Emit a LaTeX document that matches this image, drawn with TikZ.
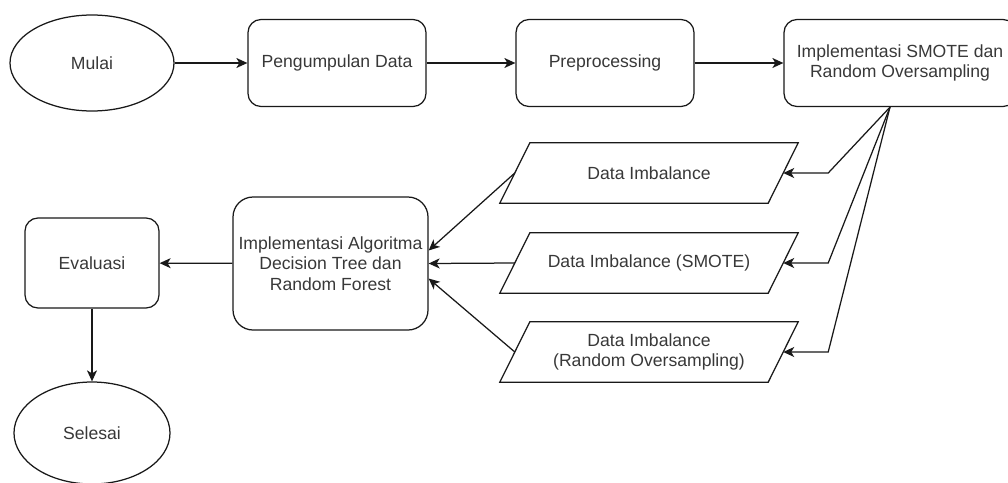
\documentclass[tikz,border=0pt]{standalone}
\usepackage{fontspec}
\setmainfont{Liberation Sans}
\usetikzlibrary{arrows.meta,shapes.geometric}

\begin{document}
\begin{tikzpicture}[x=1pt,y=-1pt,
  line/.style={draw=black!90, line width=1.25pt},
  lbl/.style={text=black!78, font=\fontsize{17.6}{20.5}\selectfont, align=center},
  proc/.style={line, lbl, rounded corners=13pt, minimum width=178pt, minimum height=87pt, inner sep=0pt},
  term/.style={line, lbl, ellipse, inner sep=0pt},
  iobox/.style={lbl, minimum width=268pt, minimum height=60pt, inner sep=0pt},
  flow/.style={line, -{Stealth[length=11pt,width=10pt,inset=3pt]}}
]
\clip (0,0) rectangle (1008,482);

% top row
\node[term, minimum width=164pt, minimum height=96pt] (mulai) at (92,63) {Mulai};
\node[proc] (kumpul) at (337,63) {Pengumpulan Data};
\node[proc] (prep) at (605,63) {Preprocessing};
\node[proc, minimum width=232pt] (smote) at (900,63) {Implementasi SMOTE dan\\Random Oversampling};

% data sets
\node[iobox] (d1) at (649,173) {Data Imbalance};
\node[iobox] (d2) at (649,263) {Data Imbalance (SMOTE)};
\node[iobox] (d3) at (649,352) {Data Imbalance\\(Random Oversampling)};
\foreach \n in {d1,d2,d3}
  \draw[line] ([xshift=15pt]\n.north west) -- ([xshift=15pt]\n.north east)
    -- ([xshift=-15pt]\n.south east) -- ([xshift=-15pt]\n.south west) -- cycle;

% modelling, evaluation, end
\node[proc, minimum width=195pt, minimum height=133pt, rounded corners=20pt] (algo) at (330.5,263.5)
  {Implementasi Algoritma\\Decision Tree dan\\Random Forest};
\node[proc, minimum width=134pt, minimum height=90pt] (eval) at (92,263) {Evaluasi};
\node[term, minimum width=156pt, minimum height=102pt] (selesai) at (92,433) {Selesai};

% connectors
\draw[flow] (mulai) -- (kumpul);
\draw[flow] (kumpul) -- (prep);
\draw[flow] (prep) -- (smote);

\coordinate (fan) at ([xshift=-10pt]smote.south);
\foreach \n in {d1,d2,d3}
  \draw[flow] (fan) -- ([xshift=45pt]\n.east) -- (\n.east);

\draw[flow] (d1.west) -- ([yshift=13pt]algo.east);
\draw[flow] (d2.west) -- (algo.east);
\draw[flow] (d3.west) -- ([yshift=-15pt]algo.east);
\draw[flow] (algo) -- (eval);
\draw[flow] (eval) -- (selesai);
\end{tikzpicture}
\end{document}
